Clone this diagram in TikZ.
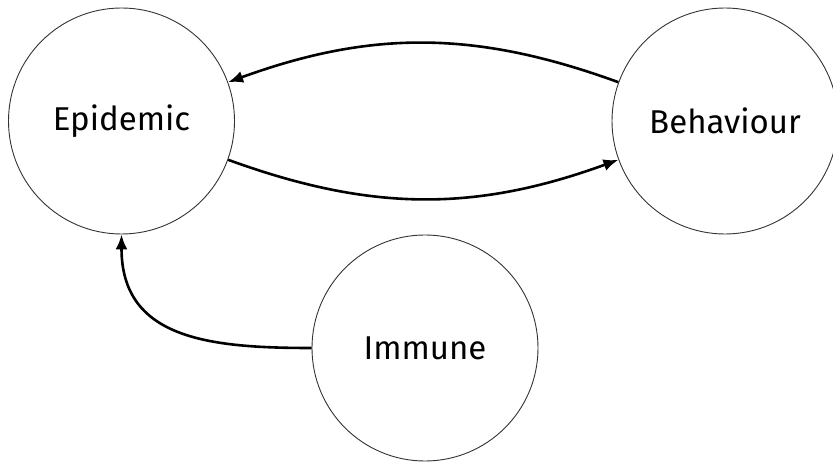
\documentclass[tikz,border=0pt]{standalone}
\usepackage{fontspec}
\setmainfont{Fira Sans}
\usetikzlibrary{arrows.meta}
\begin{document}
\begin{tikzpicture}[x=1pt,y=-1pt,
  state/.style={circle,draw=black!80,line width=0.9pt,minimum size=226pt,inner sep=0pt,font=\fontsize{33}{38}\selectfont},
  link/.style={line width=2.6pt,-{Latex[length=15pt,width=12pt]}}]
\useasboundingbox (0,0) rectangle (833,462);
\node[state] (epi) at (121.5,121) {Epidemic};
\node[state] (beh) at (725,121) {Behaviour};
\node[state] (imm) at (425,348) {Immune};
\draw[link] (beh.160) to[bend right=20] (epi.20);
\draw[link] (epi.-20) to[bend right=20] (beh.200);
\draw[link] (imm.west) to[out=180,in=-90,looseness=1.2] (epi.south);
\end{tikzpicture}
\end{document}
